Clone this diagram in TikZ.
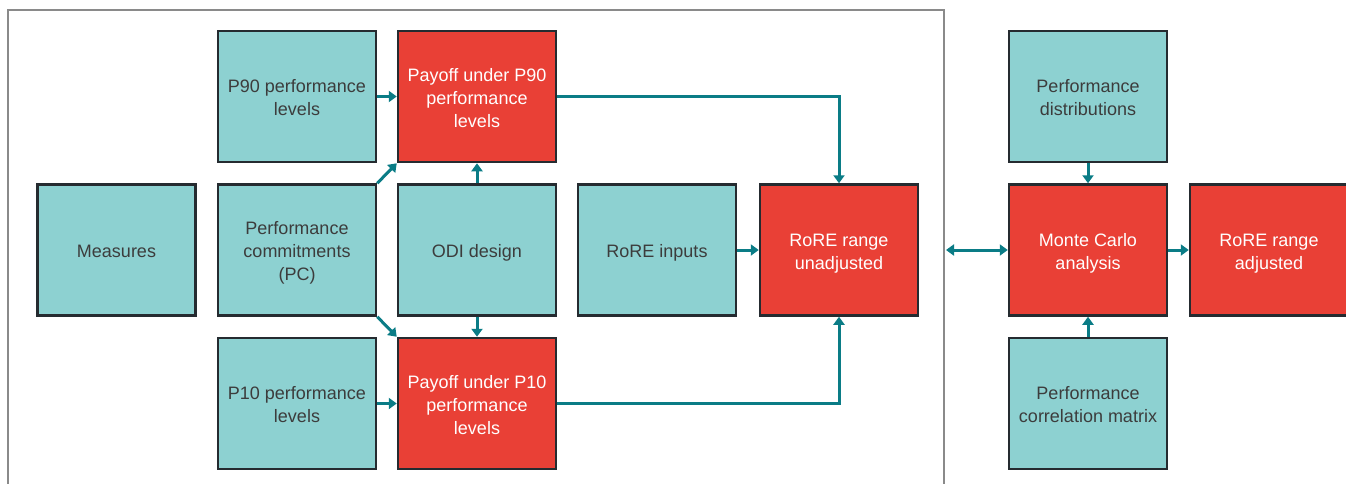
\documentclass[tikz,border=0pt]{standalone}
\usepackage{fontspec}
\setmainfont{Liberation Sans}
\usetikzlibrary{arrows.meta}
\definecolor{tealfill}{HTML}{8DD1D1}
\definecolor{redfill}{HTML}{E94036}
\definecolor{boxline}{HTML}{252B30}
\definecolor{arrowc}{HTML}{0A7C86}
\definecolor{txt}{HTML}{3C3C3C}
\definecolor{framec}{HTML}{8A8A8A}
\newcommand\bxt[1]{\begin{tabular}{@{}c@{}}\rule{0pt}{22pt}#1\end{tabular}}
\tikzset{
  box/.style={draw=boxline, line width=2.5pt, minimum width=158pt, minimum height=131pt,
    inner sep=2pt, font=\fontsize{18pt}{23pt}\selectfont},
  inbox/.style={box, fill=tealfill, text=txt},
  outbox/.style={box, fill=redfill, text=white},
  conn/.style={draw=arrowc, line width=3pt, -{Triangle[width=11pt,length=8pt]}},
  dconn/.style={draw=arrowc, line width=3pt, {Triangle[width=11pt,length=8pt]}-{Triangle[width=11pt,length=8pt]}},
}
\begin{document}
\begin{tikzpicture}[x=1pt,y=-1pt]
\useasboundingbox (0,0) rectangle (1346,483);
\draw[framec, line width=2pt] (8,490) -- (8,10) -- (944,10) -- (944,490);
\node[inbox] (p90lev) at (297,96.5) {\bxt{P90 performance\\levels}};
\node[outbox] (pay90) at (477,96.5) {\bxt{Payoff under P90\\performance\\levels}};
\node[inbox] (meas) at (116.5,250) {\bxt{Measures}};
\node[inbox] (pc) at (297,250) {\bxt{Performance\\commitments\\(PC)}};
\node[inbox] (odi) at (477,250) {\bxt{ODI design}};
\node[inbox] (rinp) at (657,250) {\bxt{RoRE inputs}};
\node[outbox] (rru) at (839,250) {\bxt{RoRE range\\unadjusted}};
\node[outbox] (mc) at (1088,250) {\bxt{Monte Carlo\\analysis}};
\node[outbox] (rra) at (1269,250) {\bxt{RoRE range\\adjusted}};
\node[inbox] (pdist) at (1088,96.5) {\bxt{Performance\\distributions}};
\node[inbox] (pcorr) at (1088,403.5) {\bxt{Performance\\correlation matrix}};
\node[inbox] (p10lev) at (297,403.5) {\bxt{P10 performance\\levels}};
\node[outbox] (pay10) at (477,403.5) {\bxt{Payoff under P10\\performance\\levels}};
\coordinate (fr) at (946,250);
\draw[conn] (p90lev) -- (pay90);
\draw[conn] (p10lev) -- (pay10);
\draw[conn] (pc.north east) -- (pay90.south west);
\draw[conn] (pc.south east) -- (pay10.north west);
\draw[conn] (odi) -- (pay90);
\draw[conn] (odi) -- (pay10);
\draw[conn] (pay90.east) -| (rru.north);
\draw[conn] (pay10.east) -| (rru.south);
\draw[conn] (rinp) -- (rru);
\draw[dconn] (fr) -- (mc.west);
\draw[conn] (pdist) -- (mc);
\draw[conn] (pcorr) -- (mc);
\draw[conn] (mc) -- (rra);
\end{tikzpicture}
\end{document}
